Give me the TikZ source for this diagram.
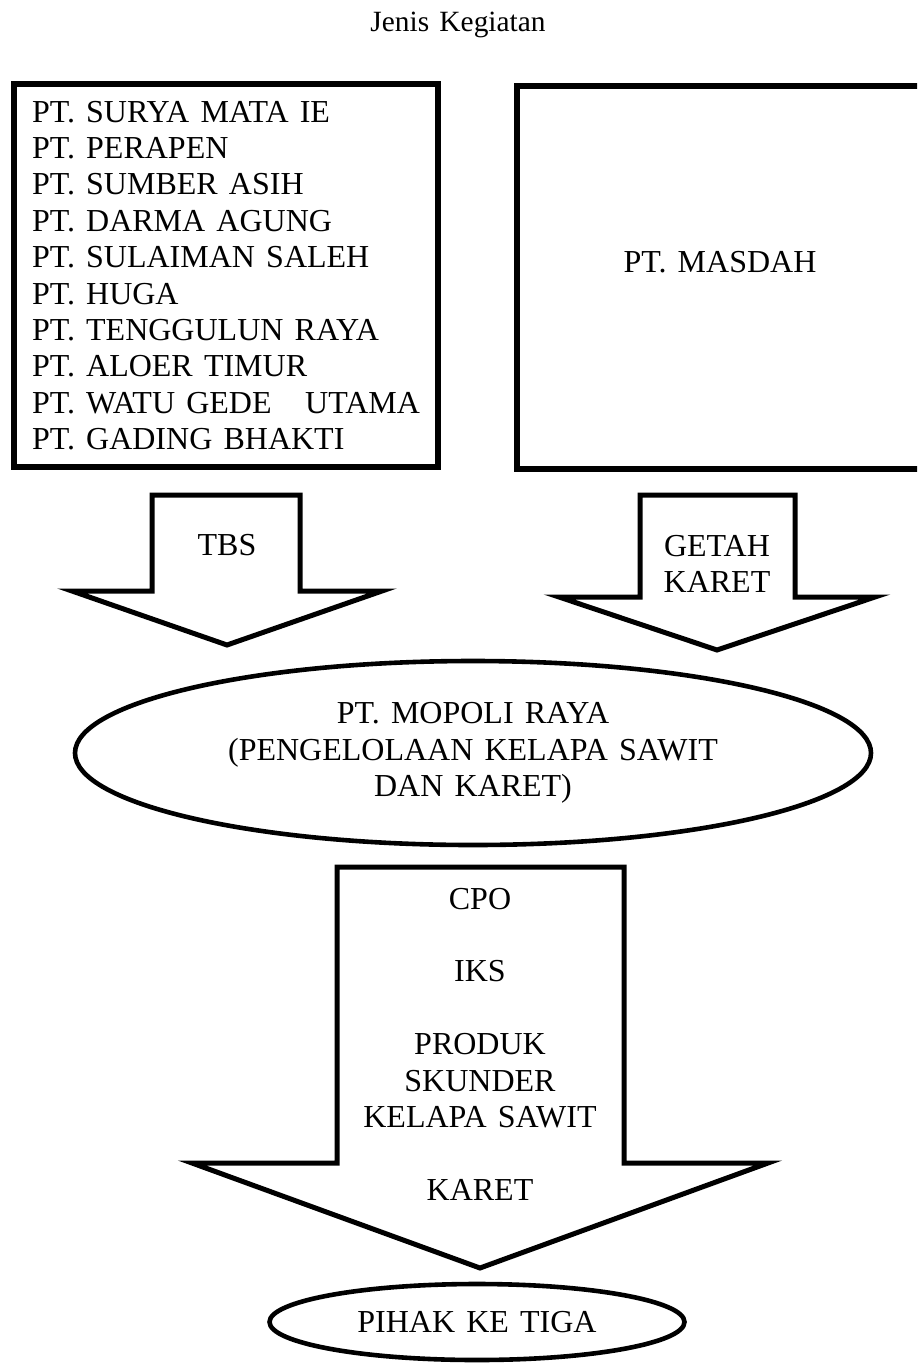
\documentclass[tikz,border=0pt]{standalone}
\usepackage{fontspec}
\setmainfont{Liberation Serif}[WordSpace=1.4]
\usetikzlibrary{shapes.geometric}

\tikzset{
  teks/.style={font=\fontsize{16}{18.2}\selectfont},
  kotak/.style={draw, line width=2.8pt, inner sep=0pt},
  elips/.style={draw, ellipse, line width=2.3pt, inner sep=0pt, align=center},
  panah/.style={draw, line width=2.5pt, line join=miter},
}

\begin{document}
\begin{tikzpicture}[x=0.5pt,y=-0.5pt,every node/.style={teks}]
\useasboundingbox (0,0) rectangle (917,1365);
\clip (0,0) rectangle (917,1365);

\node (judul) at (458,25) {\fontsize{14.7}{17}\selectfont Jenis Kegiatan};

\node[kotak, align=left, minimum width=212pt, minimum height=191.5pt] (pemasok) at (226,275.5)
    {PT. SURYA MATA IE\\
     PT. PERAPEN\\
     PT. SUMBER ASIH\\
     PT. DARMA AGUNG\\
     PT. SULAIMAN SALEH\\
     PT. HUGA\\
     PT. TENGGULUN RAYA\\
     PT. ALOER TIMUR\\
     PT. WATU GEDE\ \ \ UTAMA\\
     PT. GADING BHAKTI};
\node[kotak, minimum width=204pt, minimum height=191.5pt] (masdah) at (721,277.5) {};
\node (masdahteks) at (720,262) {PT. MASDAH};

\draw[panah] (152,495) -- (300,495) -- (300,591) -- (382,591)
    -- (227,645) -- (72,591) -- (152,591) -- cycle;
\node (tbs) at (227,545) {TBS};

\draw[panah] (640,495) -- (795,495) -- (795,597) -- (875,597)
    -- (717,650) -- (559,597) -- (640,597) -- cycle;
\node[align=center] (getah) at (717,564) {GETAH\\KARET};

\node[elips, minimum width=398pt, minimum height=92pt] (mopoli) at (473,753)
    {PT. MOPOLI RAYA\\
     (PENGELOLAAN KELAPA SAWIT\\
     DAN KARET)};

\draw[panah] (337,867) -- (624,867) -- (624,1163) -- (768,1163)
    -- (480,1268) -- (192,1163) -- (337,1163) -- cycle;
\node[align=center] (produk) at (480,1044)
    {CPO\\[18.2pt]
     IKS\\[18.2pt]
     PRODUK\\
     SKUNDER\\
     KELAPA SAWIT\\[18.2pt]
     KARET};

\node[elips, minimum width=207.5pt, minimum height=38pt] (pihak) at (477,1322) {PIHAK KE TIGA};
\end{tikzpicture}
\end{document}
